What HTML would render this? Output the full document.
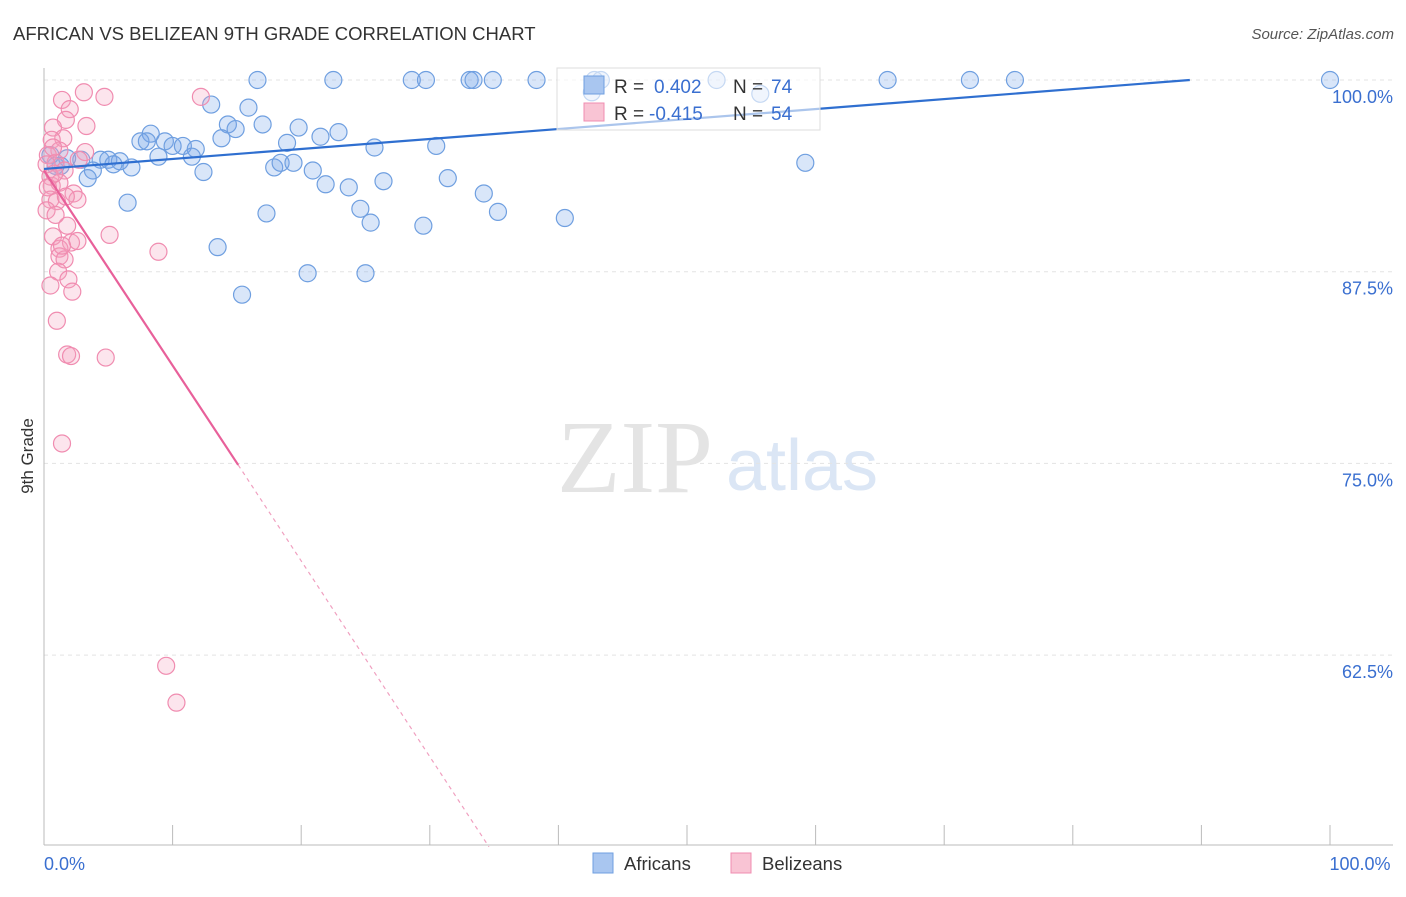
<!DOCTYPE html>
<html><head><meta charset="utf-8"><style>
body{margin:0;background:#fff;font-family:"Liberation Sans",sans-serif;}
svg text{font-family:"Liberation Sans",sans-serif;}
</style></head><body>
<svg id="chart" width="1406" height="892" xmlns="http://www.w3.org/2000/svg">
<text x="13" y="40" font-size="18.5" fill="#333">AFRICAN VS BELIZEAN 9TH GRADE CORRELATION CHART</text>
<text x="1394" y="39" font-size="15" fill="#555" font-style="italic" text-anchor="end">Source: ZipAtlas.com</text>
<text x="635" y="492" font-size="104" fill="#e4e4e4" style="font-family:'Liberation Serif',serif" text-anchor="middle">ZIP</text>
<text x="802" y="490" font-size="72" fill="#dbe6f5" text-anchor="middle">atlas</text>
<text transform="translate(33,456) rotate(-90)" font-size="17" fill="#333" text-anchor="middle">9th Grade</text>
<g id="grid"></g><g id="axes"></g><g id="pts"></g><g id="lines"></g>
<g>
<rect x="557" y="68" width="263" height="62" fill="rgba(255,255,255,0.6)" stroke="#ddd"/>
<rect x="584" y="76" width="20" height="18" fill="#a9c6f0" stroke="#6f9fe0"/>
<text x="614" y="93" font-size="19" fill="#333">R = </text><text x="654" y="93" font-size="19" fill="#3a6fd0">0.402</text>
<text x="733" y="93" font-size="19" fill="#333">N = </text><text x="771" y="93" font-size="19" fill="#3a6fd0">74</text>
<rect x="584" y="103" width="20" height="18" fill="#f9c4d4" stroke="#f08cb0"/>
<text x="614" y="120" font-size="19" fill="#333">R = </text><text x="649" y="120" font-size="19" fill="#3a6fd0">-0.415</text>
<text x="733" y="120" font-size="19" fill="#333">N = </text><text x="771" y="120" font-size="19" fill="#3a6fd0">54</text>
</g>
<g>
<rect x="593" y="853" width="20" height="20" fill="#a9c6f0" stroke="#6f9fe0"/>
<text x="624" y="870" font-size="18.5" fill="#333">Africans</text>
<rect x="731" y="853" width="20" height="20" fill="#f9c4d4" stroke="#f08cb0"/>
<text x="762" y="870" font-size="18.5" fill="#333">Belizeans</text>
</g>
</svg>
<script>
const yTicks=[100,87.5,75,62.5];
const yTickLabels=["100.0%","87.5%","75.0%","62.5%"];
const xTickLabels=["0.0%","100.0%"];
const africansX=[16.6,22.5,28.6,29.7,33.1,33.4,34.9,38.3,42.8,43.3,52.3,65.6,72.0,75.5,100,42.6,55.7,13.0,15.9,17.0,14.3,14.9,19.8,8.3,22.9,21.5,7.5,8.0,9.4,10.0,10.8,11.8,13.8,18.9,25.7,30.5,8.9,11.5,4.4,5.0,5.9,5.4,2.9,1.8,0.5,1.3,6.8,3.8,3.4,12.4,17.9,18.4,19.4,20.9,21.9,23.7,26.4,31.4,34.2,59.2,6.5,17.3,24.6,25.4,29.5,35.3,40.5,13.5,20.5,25.0,15.4,0.9];
const africansY=[100,100,100,100,100,100,100,100,100,100,100,100,100,100,100,99.2,99.1,98.4,98.2,97.1,97.1,96.8,96.9,96.5,96.6,96.3,96.0,96.0,96.0,95.7,95.7,95.5,96.2,95.9,95.6,95.7,95.0,95.0,94.8,94.8,94.7,94.5,94.8,94.9,95.1,94.4,94.3,94.1,93.6,94.0,94.3,94.6,94.6,94.1,93.2,93.0,93.4,93.6,92.6,94.6,92.0,91.3,91.6,90.7,90.5,91.4,91.0,89.1,87.4,87.4,86.0,94.4];
const belizeansX=[3.1,4.7,1.4,2.0,12.2,1.7,3.3,0.7,1.5,0.6,1.2,3.2,0.3,2.7,0.9,1.6,0.5,0.6,1.2,2.3,2.6,0.5,1.0,1.8,0.7,5.1,2.1,2.6,1.2,1.2,1.6,8.9,1.1,1.9,2.2,0.5,1.0,1.8,2.1,4.8,1.4,9.5,10.3,0.7,0.2,0.8,0.3,1.7,0.2,0.9,1.4];
const belizeansY=[99.2,98.9,98.7,98.1,98.9,97.4,97.0,96.9,96.2,96.1,95.4,95.3,95.1,94.8,94.6,94.1,93.7,93.1,93.3,92.6,92.2,92.2,92.1,90.5,89.8,89.9,89.4,89.5,89.0,88.5,88.3,88.8,87.5,87.0,86.2,86.6,84.3,82.1,82.0,81.9,76.3,61.8,59.4,95.6,94.5,93.9,93.0,92.4,91.5,91.2,89.2];
const blueTrend=[[0,94.2],[89.1,100]];
const pinkTrendSolid=[[0,94.1],[15.1,74.9]];
const pinkTrendDash=[[15.1,74.9],[34.6,50]];
const NS="http://www.w3.org/2000/svg";
const X=v=>44+v/100*1286;
const Y=v=>80+(100-v)/12.5*191.7;
function mk(tag,attrs,parent){const e=document.createElementNS(NS,tag);for(const k in attrs)e.setAttribute(k,attrs[k]);document.getElementById(parent).appendChild(e);return e;}
yTicks.forEach((t,i)=>{
 const g=mk('line',{x1:44,x2:1393,y1:Y(t),y2:Y(t),stroke:'#e3e3e3','stroke-dasharray':'4,4'},'grid');
 
 
 const l=mk('text',{x:1393,y:Y(t)+23,'font-size':18,fill:'#3a6fd0','text-anchor':'end'},'grid');
 l.textContent=yTickLabels[i];
 
 
});
let a=mk('line',{x1:44,x2:44,y1:68,y2:845,stroke:'#bbb'},'axes');


a=mk('line',{x1:44,x2:1393,y1:845,y2:845,stroke:'#bbb'},'axes');


for(let i=0;i<=10;i++){const t=mk('line',{x1:X(i*10),x2:X(i*10),y1:825,y2:845,stroke:'#bbb'},'axes');
 
 }
[[0,'start',44],[100,'middle',1360]].forEach((d,i)=>{const t=mk('text',{x:d[2],y:870,'font-size':18,fill:'#3a6fd0','text-anchor':d[1]},'axes');t.textContent=xTickLabels[i];
 
 });
africansX.forEach((x,i)=>{const c=mk('circle',{cx:X(x),cy:Y(africansY[i]),r:8.5,fill:'rgba(120,165,235,0.28)',stroke:'#6f9fe0','stroke-width':1.2},'pts');
 
 });
belizeansX.forEach((x,i)=>{const c=mk('circle',{cx:X(x),cy:Y(belizeansY[i]),r:8.5,fill:'rgba(245,160,190,0.28)',stroke:'#f08cb0','stroke-width':1.2},'pts');
 
 });
let ln=mk('line',{x1:X(blueTrend[0][0]),y1:Y(blueTrend[0][1]),x2:X(blueTrend[1][0]),y2:Y(blueTrend[1][1]),stroke:'#2f6fd0','stroke-width':2.2},'lines');


ln=mk('line',{x1:X(pinkTrendSolid[0][0]),y1:Y(pinkTrendSolid[0][1]),x2:X(pinkTrendSolid[1][0]),y2:Y(pinkTrendSolid[1][1]),stroke:'#e8609a','stroke-width':2.2},'lines');


ln=mk('line',{x1:X(pinkTrendDash[0][0]),y1:Y(pinkTrendDash[0][1]),x2:X(pinkTrendDash[1][0]),y2:Y(pinkTrendDash[1][1]),stroke:'#f0a0c0','stroke-width':1.2,'stroke-dasharray':'4,4'},'lines');


</script>
</body></html>
